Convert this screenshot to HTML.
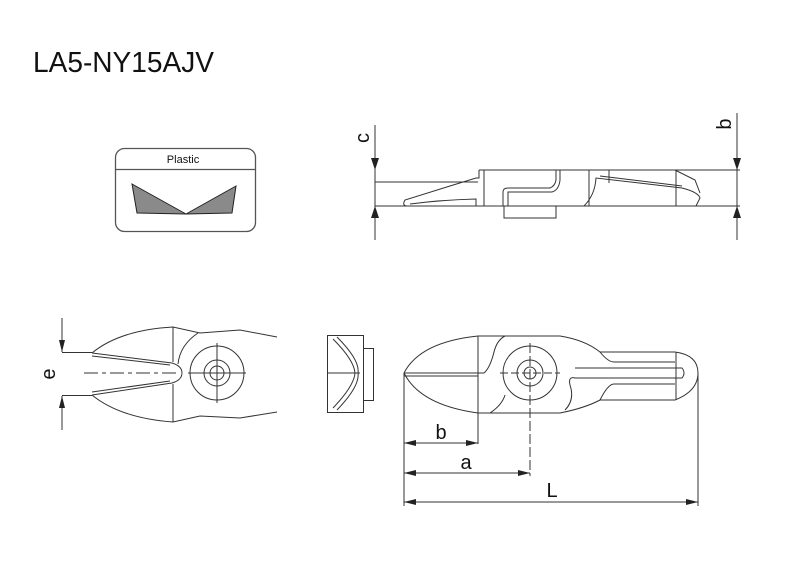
<!DOCTYPE html>
<html><head><style>html,body{margin:0;padding:0;background:#fff}svg{display:block}</style></head><body>
<svg width="800" height="566" viewBox="0 0 800 566" xmlns="http://www.w3.org/2000/svg" font-family="Liberation Sans, sans-serif">
<defs><marker id="ar" markerWidth="12" markerHeight="6" refX="12" refY="3" orient="auto-start-reverse" markerUnits="userSpaceOnUse"><path d="M0,0 L12,3 L0,6 z" fill="#222"/></marker></defs>
<text x="33" y="72" font-size="29" fill="#111" textLength="181" lengthAdjust="spacingAndGlyphs">LA5-NY15AJV</text>
<rect x="115.5" y="148.5" width="140" height="83" rx="9" fill="none" stroke="#555" stroke-width="1.3"/>
<line x1="115.5" y1="169.5" x2="255.5" y2="169.5" stroke="#555" stroke-width="1.3"/>
<text x="183" y="163" font-size="11" text-anchor="middle" fill="#111">Plastic</text>
<path d="M132,184 L186,214 L137,213 Z M236,186 L186,214 L232,213 Z" fill="#8a8a8a" stroke="#222" stroke-width="1"/>
<g fill="none" stroke="#333" stroke-width="1">
<line x1="375" y1="125" x2="375" y2="240"/>
<line x1="737" y1="113" x2="737" y2="240"/>
<line x1="479" y1="170" x2="740" y2="170"/>
<line x1="375" y1="206" x2="740" y2="206"/>
<line x1="375" y1="182" x2="478" y2="182"/>
<path d="M479,170 V178 H476 L450,186 L405,200 Q402,205 406,206"/>
<path d="M410,204 Q440,200 476,199 V206"/>
<line x1="484" y1="170" x2="484" y2="206"/>
<path d="M503,206 V192 Q503,188 508,188 H550 Q555,186 556,180 V170"/>
<path d="M508,206 V192 H552 Q559,190 560,180 V170"/>
<rect x="504" y="206" width="52" height="12"/>
<line x1="589" y1="170" x2="589" y2="206"/>
<line x1="609" y1="170" x2="609" y2="183"/>
<path d="M584,206 Q595,195 596,178 L682,188 Q698,192 700,198 L696,206"/>
<path d="M600,176 L682,186"/>
<path d="M675,170 L695,180 L700,193"/>
<line x1="676" y1="170" x2="676" y2="206"/>
<path d="M92,353 Q120,330 173,327 L200,333 L240,330 L277,337"/>
<path d="M92,395 Q120,418 173,422 L200,416 L240,418 L277,412"/>
<path d="M92,353 L172,363 Q182,366 182,373 Q182,380 172,383 L92,395"/>
<path d="M92,356 L170,365 M92,392 L170,381"/>
<line x1="173" y1="327" x2="173" y2="362"/><line x1="173" y1="384" x2="173" y2="422"/>
<path d="M198,333 Q180,345 178,364"/>
<circle cx="217" cy="373" r="27"/><circle cx="217" cy="373" r="13"/><circle cx="217" cy="373" r="7"/>
<line x1="84" y1="373" x2="178" y2="373" stroke-dasharray="14,4,4,4"/>
<line x1="188" y1="373" x2="246" y2="373"/><line x1="217" y1="343" x2="217" y2="403"/>
<line x1="62" y1="318" x2="62" y2="352" marker-end="url(#ar)"/>
<line x1="62" y1="430" x2="62" y2="396" marker-end="url(#ar)"/>
<line x1="62" y1="352.5" x2="92" y2="352.5"/><line x1="62" y1="395.5" x2="92" y2="395.5"/>
<rect x="327.5" y="335.5" width="36" height="77"/>
<rect x="363.5" y="348.5" width="10" height="52"/>
<path d="M337,337 Q360,360 358,373 Q360,386 337,410"/>
<path d="M333,339 Q354,360 355,373 Q354,386 333,408"/>
<line x1="328" y1="373" x2="360" y2="373"/>
<path d="M404,373 Q420,342 478,336 H560 Q585,340 600,352 H675 Q698,355 698,373 Q698,391 675,400 H600 Q585,408 560,413 H478 Q420,405 404,373"/>
<line x1="404" y1="373" x2="478" y2="373"/><line x1="404" y1="376" x2="478" y2="376"/>
<path d="M478,373 H484 Q490,368 494,352 Q497,340 505,336"/>
<path d="M490,413 Q502,405 505,395 M600,352 Q608,362 614,362 H675 M600,400 Q608,384 614,384 H675"/>
<path d="M575,368 H682 Q686,373 682,378 H575 Q568,376 570,385 Q575,400 565,410"/>
<line x1="676" y1="352" x2="676" y2="400"/>
<circle cx="530" cy="373" r="27"/><circle cx="530" cy="373" r="13"/><circle cx="530" cy="373" r="6"/>
<line x1="500" y1="373" x2="560" y2="373" stroke-dasharray="8,3"/><line x1="530" y1="343" x2="530" y2="476" stroke-dasharray="10,3"/>
<line x1="478" y1="336" x2="478" y2="444"/>
<line x1="404" y1="373" x2="404" y2="506"/><line x1="698" y1="373" x2="698" y2="506"/>
<line x1="404" y1="443" x2="478" y2="443" marker-start="url(#ar)" marker-end="url(#ar)"/>
<line x1="404" y1="473" x2="530" y2="473" marker-start="url(#ar)" marker-end="url(#ar)"/>
<line x1="404" y1="502" x2="698" y2="502" marker-start="url(#ar)" marker-end="url(#ar)"/>
</g>
<g fill="#222">
<path d="M371,158 L375,170 L379,158 Z M371,218 L375,206 L379,218 Z M733,158 L737,170 L741,158 Z M733,218 L737,206 L741,218 Z"/>
</g>
<g font-size="20" fill="#111" text-anchor="middle">
<text x="441" y="439">b</text><text x="466" y="469">a</text><text x="552" y="497">L</text>
<text transform="translate(375,138) rotate(-90)" y="-6">c</text>
<text transform="translate(737,124) rotate(-90)" y="-6">b</text>
<text transform="translate(55,374) rotate(-90)">e</text>
</g>
</svg>
</body></html>
